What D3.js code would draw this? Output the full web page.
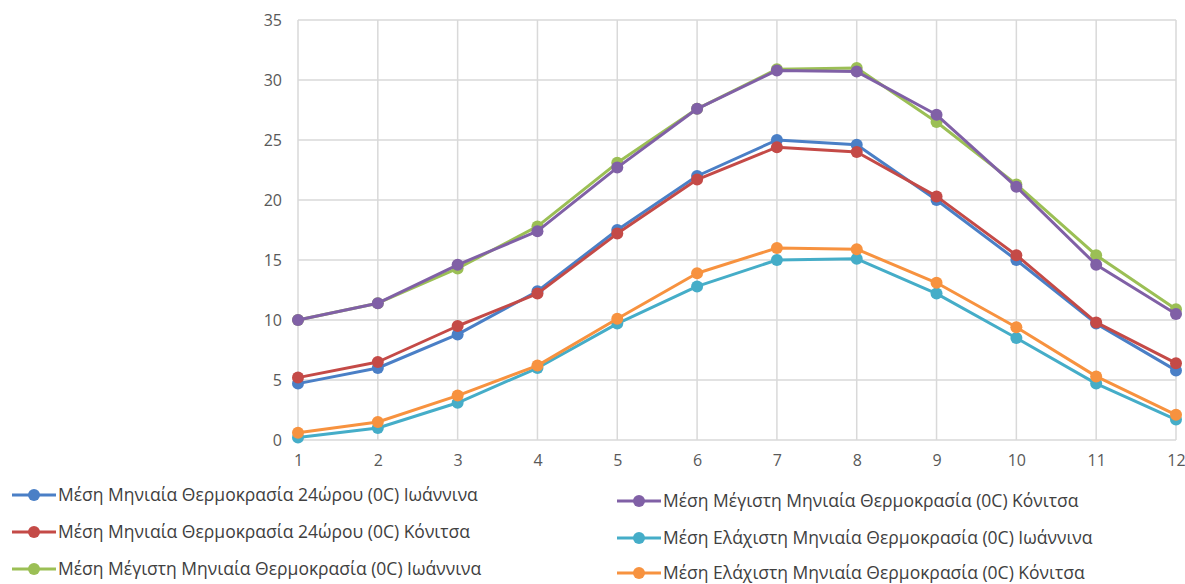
<!DOCTYPE html>
<html>
<head>
<meta charset="utf-8">
<script src="https://cdn.jsdelivr.net/npm/d3@7"></script>
<style>
  html, body { margin: 0; padding: 0; background: #fff; }
  svg { display: block; }
  text { font-family: "Open Sans", "Noto Sans", sans-serif; }
</style>
</head>
<body>
<svg id="chart" width="1185" height="584"></svg>
<script>
// Months 1..12
const months = [1, 2, 3, 4, 5, 6, 7, 8, 9, 10, 11, 12];
const yTicks = [0, 5, 10, 15, 20, 25, 30, 35];

// Monthly temperatures (°C)
const meanIoannina    = [4.7, 6.0, 8.8, 12.4, 17.5, 22.0, 25.0, 24.6, 20.0, 15.0, 9.7, 5.8];
const meanKonitsa     = [5.2, 6.5, 9.5, 12.2, 17.2, 21.7, 24.4, 24.0, 20.3, 15.4, 9.8, 6.4];
const maxIoannina     = [10.0, 11.4, 14.3, 17.8, 23.1, 27.6, 30.9, 31.0, 26.5, 21.3, 15.4, 10.9];
const maxKonitsa      = [10.0, 11.4, 14.6, 17.4, 22.7, 27.6, 30.8, 30.7, 27.1, 21.1, 14.6, 10.5];
const minIoannina     = [0.2, 1.0, 3.1, 6.0, 9.7, 12.8, 15.0, 15.1, 12.2, 8.5, 4.7, 1.7];
const minKonitsa      = [0.6, 1.5, 3.7, 6.2, 10.1, 13.9, 16.0, 15.9, 13.1, 9.4, 5.3, 2.1];

const seriesNames = [
  "Μέση Μηνιαία Θερμοκρασία 24ώρου (0C) Ιωάννινα",
  "Μέση Μηνιαία Θερμοκρασία 24ώρου (0C) Κόνιτσα",
  "Μέση Μέγιστη Μηνιαία Θερμοκρασία (0C) Ιωάννινα",
  "Μέση Μέγιστη Μηνιαία Θερμοκρασία (0C) Κόνιτσα",
  "Μέση Ελάχιστη Μηνιαία Θερμοκρασία (0C) Ιωάννινα",
  "Μέση Ελάχιστη Μηνιαία Θερμοκρασία (0C) Κόνιτσα"
];
const seriesColors = ["#4a7fc6", "#c44a47", "#9bbf55", "#8060a6", "#45adc8", "#f7923f"];
const seriesValues = [meanIoannina, meanKonitsa, maxIoannina, maxKonitsa, minIoannina, minKonitsa];

const series = seriesNames.map((name, i) => ({
  name, color: seriesColors[i], values: seriesValues[i]
}));

const svg = d3.select("#chart");
const plot = { left: 298, right: 1176, top: 20, bottom: 440 };

const x = d3.scaleLinear().domain([1, 12]).range([plot.left, plot.right]);
const y = d3.scaleLinear().domain([0, 35]).range([plot.bottom, plot.top]);

// Gridlines
const grid = svg.append("g");
grid.selectAll("line.h").data(yTicks).join("line")
  .attr("x1", plot.left).attr("x2", plot.right)
  .attr("y1", d => y(d)).attr("y2", d => y(d))
  .attr("stroke", "#d9d9d9").attr("stroke-width", 1.5);
grid.selectAll("line.v").data(months).join("line")
  .attr("y1", plot.top).attr("y2", plot.bottom)
  .attr("x1", d => x(d)).attr("x2", d => x(d))
  .attr("stroke", "#d9d9d9").attr("stroke-width", 1.5);

// Axes
const yAxis = svg.append("g")
  .attr("transform", `translate(${plot.left},0)`)
  .call(d3.axisLeft(y).tickValues(yTicks).tickSize(0).tickPadding(16));
yAxis.select(".domain").remove();
yAxis.selectAll("text").attr("fill", "#595959").attr("font-size", 16);

const xAxis = svg.append("g")
  .attr("transform", `translate(0,${plot.bottom})`)
  .call(d3.axisBottom(x).tickValues(months).tickFormat(d3.format("d")).tickSize(0).tickPadding(15));
xAxis.select(".domain").remove();
xAxis.selectAll("text").attr("fill", "#595959").attr("font-size", 16);

// Lines and markers
const line = d3.line().x((d, i) => x(months[i])).y(d => y(d));
series.forEach(s => {
  const g = svg.append("g");
  g.append("path").datum(s.values)
    .attr("d", line)
    .attr("fill", "none")
    .attr("stroke", s.color)
    .attr("stroke-width", 3)
    .attr("stroke-linejoin", "round");
  g.selectAll("circle").data(s.values).join("circle")
    .attr("cx", (d, i) => x(months[i]))
    .attr("cy", d => y(d))
    .attr("r", 6)
    .attr("fill", s.color);
});

// Legend: two columns
const legendPos = [
  { lx: 12, ty: 495 }, { lx: 12, ty: 532 }, { lx: 12, ty: 569 },
  { lx: 617, ty: 501 }, { lx: 617, ty: 538 }, { lx: 617, ty: 573 }
];
series.forEach((s, i) => {
  const p = legendPos[i];
  const g = svg.append("g");
  g.append("line")
    .attr("x1", p.lx).attr("x2", p.lx + 44)
    .attr("y1", p.ty).attr("y2", p.ty)
    .attr("stroke", s.color).attr("stroke-width", 3);
  g.append("circle")
    .attr("cx", p.lx + 22).attr("cy", p.ty).attr("r", 6)
    .attr("fill", s.color);
  g.append("text")
    .attr("x", p.lx + 46).attr("y", p.ty)
    .attr("dy", "0.35em")
    .attr("font-size", 17.5)
    .attr("fill", "#404040")
    .text(s.name);
});
</script>
</body>
</html>
